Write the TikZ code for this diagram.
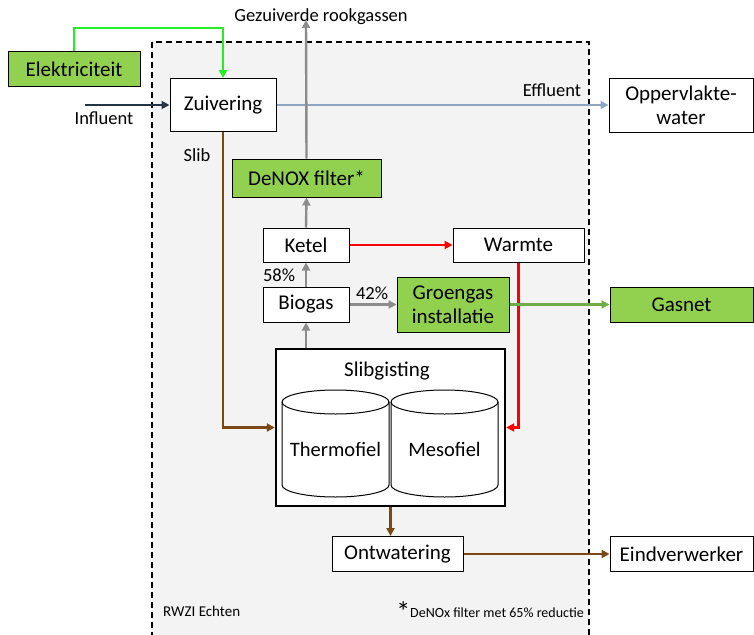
\documentclass[tikz,border=0pt]{standalone}
\usepackage{fontspec}
\setmainfont{Carlito}
\usetikzlibrary{arrows.meta, positioning, calc}

\definecolor{groenvul}{HTML}{92D050}
\definecolor{elekgroen}{HTML}{22EE22}
\definecolor{gasgroen}{HTML}{70AD47}
\definecolor{slibbruin}{HTML}{7B4712}
\definecolor{grijspijl}{HTML}{8C8C8C}
\definecolor{effblauw}{HTML}{8EA5C2}
\definecolor{inflblauw}{HTML}{243447}
\definecolor{achtergrond}{HTML}{F3F3F3}

\tikzset{
  blok/.style={draw, fill=white, line width=1pt, inner sep=0pt,
               font=\fontsize{21}{24}\selectfont, align=center},
  groenblok/.style={blok, fill=groenvul},
  label/.style={inner sep=0pt, font=\fontsize{18.5}{21}\selectfont},
  pijl/.style={line width=2.4pt, -{Triangle[length=8pt, width=8pt]}}
}

\begin{document}
\begin{tikzpicture}[x=1pt, y=-1pt, >=Triangle]
  \useasboundingbox (0,0) rectangle (754,634);
  \clip (0,0) rectangle (754,634);

  % systeemgrens
  \draw[dashed, dash pattern=on 6pt off 4pt, line width=1.4pt, fill=achtergrond]
    (152,42) rectangle (589,660);

  % blokken
  \node[groenblok, minimum width=132, minimum height=35] (elek) at (74,69) {Elektriciteit};
  \node[blok, minimum width=106, minimum height=53] (zuiv) at (223,105) {Zuivering};
  \node[blok, minimum width=144, minimum height=54] (opp) at (681,105) {Oppervlakte-\\water};
  \node[groenblok, minimum width=149, minimum height=38] (denox) at (306.5,178) {DeNOX filter*};
  \node[blok, minimum width=86, minimum height=34] (ketel) at (306,245) {Ketel};
  \node[blok, minimum width=131, minimum height=34] (warmte) at (518.5,245) {Warmte};
  \node[blok, minimum width=86, minimum height=35] (biogas) at (306,304.5) {Biogas};
  \node[groenblok, minimum width=112, minimum height=55] (groen) at (453,304.5) {Groengas\\installatie};
  \node[groenblok, minimum width=143, minimum height=35] (gasnet) at (681.5,304.5) {Gasnet};
  \node[blok, line width=2.4pt, minimum width=229, minimum height=157] (slib) at (390.5,427.5) {};
  \node[blok, minimum width=131, minimum height=35] (ontw) at (397.5,554) {Ontwatering};
  \node[blok, minimum width=143, minimum height=35] (eind) at (681.5,554) {Eindverwerker};

  % vergisters
  \foreach \cx/\naam in {335.5/Thermofiel, 444.5/Mesofiel} {
    \draw[line width=1pt, fill=white]
      (\cx-53.5,402) -- (\cx-53.5,485) arc (180:0:53.5 and 12) -- (\cx+53.5,402);
    \draw[line width=1pt, fill=white] (\cx,402) ellipse (53.5 and 12);
    \node[label, font=\fontsize{20.5}{23}\selectfont] (v\naam) at (\cx,449) {\naam};
  }
  \node[label, font=\fontsize{21}{24}\selectfont] (sliblabel) at (387,371) {Slibgisting};

  % hulppunten
  \coordinate (eltop) at (223,28);
  \coordinate (infl) at (85,105);
  \coordinate (rook) at (306,20);

  % stromen
  \draw[pijl, elekgroen] (elek.north) |- (eltop) -- (zuiv.north);
  \draw[pijl, inflblauw, line width=1.8pt] (infl) -- (zuiv.west);
  \draw[pijl, effblauw, line width=1.8pt] (zuiv.east) -- (opp.west);
  \draw[pijl, slibbruin] (zuiv.south) |- (slib.west);
  \draw[pijl, grijspijl] (biogas.south |- slib.north) -- (biogas.south);
  \draw[pijl, grijspijl] (biogas.north) -- (ketel.south);
  \draw[pijl, grijspijl] (ketel.north) -- (denox.south);
  \draw[pijl, grijspijl] (denox.north) -- (rook);
  \draw[pijl, grijspijl] (biogas.east) -- (groen.west);
  \draw[pijl, red] (ketel.east) -- (warmte.west);
  \draw[pijl, red] (warmte.south) |- (slib.east);
  \draw[pijl, gasgroen] (groen.east) -- (gasnet.west);
  \draw[pijl, slibbruin] (slib.south) -- (slib.south |- ontw.north);
  \draw[pijl, slibbruin] (ontw.east) -- (eind.west);

  % teksten
  \node[label] (rooklabel) at (321,17) {Gezuiverde rookgassen};
  \node[label] (infllabel) at (104,118) {Influent};
  \node[label] (efflabel) at (552,90) {Effluent};
  \node[label] (slibtekst) at (197,155) {Slib};
  \node[label] (p58) at (279,275) {58\%};
  \node[label] (p42) at (372,293) {42\%};
  \node[label, font=\fontsize{15}{18}\selectfont, anchor=west] (rwzi) at (163,611) {RWZI Echten};
  \node[label, font=\fontsize{14}{17}\selectfont, anchor=east] (voetnoot) at (584,612)
    {\raisebox{-4pt}{\fontsize{28}{28}\selectfont*}DeNOx filter met 65\% reductie};
\end{tikzpicture}
\end{document}
